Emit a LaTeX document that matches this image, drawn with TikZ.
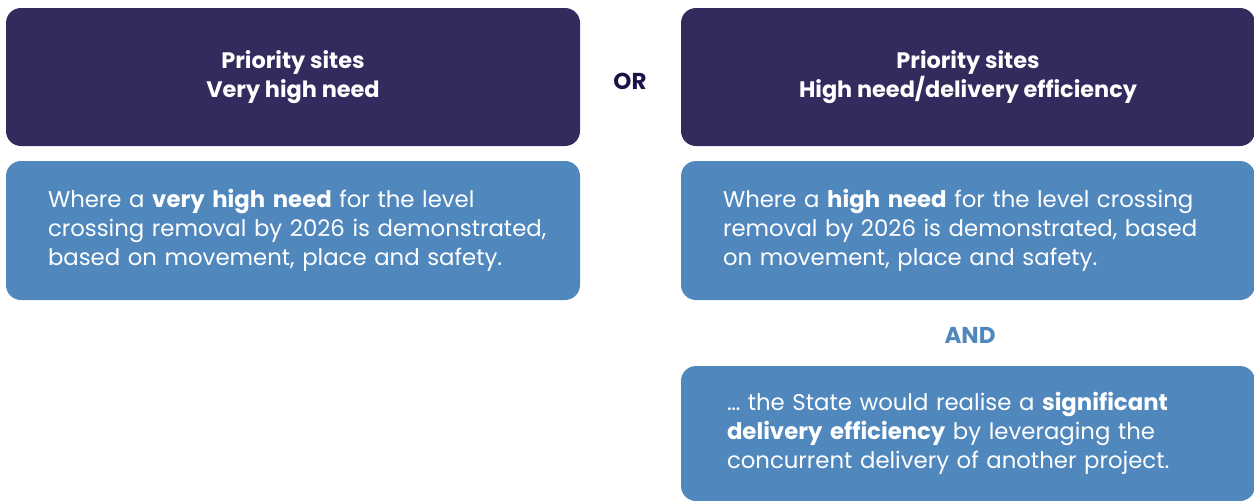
\documentclass[tikz,border=0pt]{standalone}
\usepackage{fontspec}
\setmainfont{Poppins}
\usepackage{tikz}
\definecolor{navybox}{HTML}{332B5E}
\definecolor{bluebox}{HTML}{5088BE}
\definecolor{navytext}{HTML}{1A1446}
\tikzset{
    darkbox/.style={rectangle,rounded corners=15pt,fill=navybox,text=white,align=center,
        minimum width=574pt,minimum height=138pt,font=\fontsize{22.4}{29}\selectfont\bfseries},
    lightbox/.style={rectangle,rounded corners=15pt,fill=bluebox,text=white,align=left,
        inner xsep=42pt,text width=490pt,minimum height=139pt,font=\fontsize{22.8}{29}\selectfont},
    joinword/.style={font=\fontsize{23}{29}\selectfont\bfseries}
}

\begin{document}
\begin{tikzpicture}[x=1pt,y=1pt]
\useasboundingbox (0,0) rectangle (1254,-501);
\node[darkbox] (leftTitle) at (293,-77) {Priority sites\\Very high need};
\node[darkbox] (rightTitle) at (968,-77) {Priority sites\\High need/delivery efficiency};
\node[joinword,text=navytext] (orWord) at (630,-81) {OR};
\node[lightbox] (leftNeed) at (293,-230.5) {\mbox{Where a \textbf{very high need} for the level}\\
    \mbox{crossing removal by 2026 is demonstrated,}\\
    \mbox{based on movement, place and safety.}};
\node[lightbox] (rightNeed) at (968,-230.5) {\mbox{Where a \textbf{high need} for the level crossing}\\
    \mbox{removal by 2026 is demonstrated, based}\\
    \mbox{on movement, place and safety.}};
\node[joinword,text=bluebox] (andWord) at (970,-335) {AND};
\node[lightbox,inner xsep=46pt,text width=482pt,minimum height=135pt] (efficiency) at (968,-433.5) {\mbox{\dots{} the State would realise a \textbf{significant}}\\
    \mbox{\textbf{delivery efficiency} by leveraging the}\\
    \mbox{concurrent delivery of another project.}};
\end{tikzpicture}
\end{document}
